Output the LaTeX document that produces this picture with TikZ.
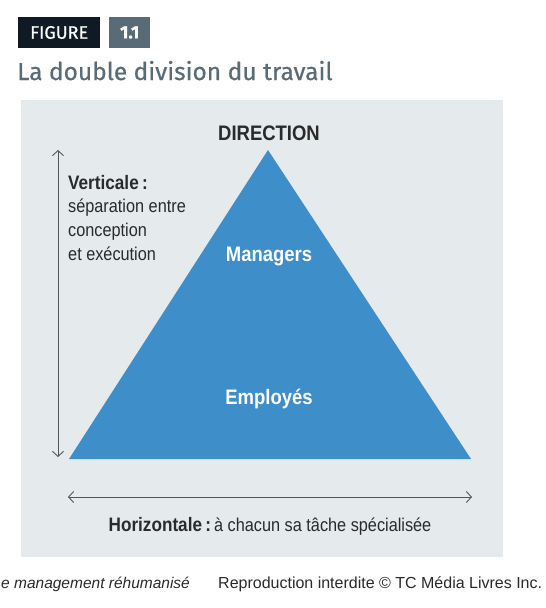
\documentclass[tikz,border=0pt]{standalone}
\usepackage{fontspec}
\setmainfont{Liberation Sans}
\newfontfamily\cond[FakeStretch=0.88]{Liberation Sans}
\newfontfamily\titlefont[FakeBold=0.6]{Fira Sans}
\newfontfamily\tagfont[FakeBold=0.8]{Fira Sans}
\usetikzlibrary{arrows.meta}
\definecolor{panel}{HTML}{E5EAED}
\definecolor{pyr}{HTML}{3D8EC9}
\definecolor{navy}{HTML}{0F1A24}
\definecolor{slate}{HTML}{5A6B78}
\definecolor{txt}{HTML}{2A2A2A}
\definecolor{arr}{HTML}{555555}
\tikzset{
  lbl/.style={inner sep=0pt, anchor=base, text=txt, font=\cond\fontsize{18.5}{22}\selectfont},
  lblw/.style={inner sep=0pt, anchor=base, text=white, font=\cond\bfseries\fontsize{21}{24}\selectfont},
  dblarrow/.style={draw=arr, line width=0.9pt, {Straight Barb[length=5pt,width=11pt]}-{Straight Barb[length=5pt,width=11pt]}},
  tag/.style={inner sep=0pt, minimum height=31pt, text=white, font=\tagfont\fontsize{18}{20}\selectfont, anchor=west}
}
\begin{document}
\begin{tikzpicture}[x=1pt,y=-1pt]
\useasboundingbox (0,0) rectangle (546,608);
\fill[white] (0,0) rectangle (546,608);
% header
\node[tag, fill=navy, minimum width=82pt] (fig) at (18,32.5) {FIGURE};
\node[tag, fill=slate, minimum width=41pt, font=\titlefont\bfseries\fontsize{18}{20}\selectfont] (num) at (109,32.5) {1.1};
\node[inner sep=0pt, anchor=base west, text=slate, font=\titlefont\fontsize{24.5}{28}\selectfont] (title) at (17,80) {La double division du travail};
% panel
\fill[panel] (21,100) rectangle (503,557);
% pyramid
\coordinate (apex) at (268,150);
\coordinate (bl) at (69,459);
\coordinate (br) at (471,459);
\fill[pyr] (apex) -- (bl) -- (br) -- cycle;
\node[lbl, font=\cond\bfseries\fontsize{21}{24}\selectfont] (dir) at (269,140) {DIRECTION};
\node[lblw] (man) at (269,261) {Managers};
\node[lblw] (emp) at (269,404) {Employés};
% vertical arrow
\coordinate (vt) at (58,150);
\coordinate (vb) at (58,457);
\draw[dblarrow] (vt) -- (vb);
\node[lbl, anchor=base west, font=\cond\bfseries\fontsize{19.5}{22}\selectfont] (vert) at (68,189) {Verticale\,:};
\node[lbl, anchor=base west] (v1) at (68,212) {séparation entre};
\node[lbl, anchor=base west] (v2) at (68,236) {conception};
\node[lbl, anchor=base west] (v3) at (68,260) {et exécution};
% horizontal arrow
\coordinate (hl) at (68,497);
\coordinate (hr) at (472,497);
\draw[dblarrow] (hl) -- (hr);
\node[lbl] (hor) at (270,531) {{\bfseries\fontsize{19.5}{22}\selectfont Horizontale\,:}\,à chacun sa tâche spécialisée};
% footer
\node[inner sep=0pt, anchor=base west, text=txt, font=\fontsize{15.5}{18}\selectfont\itshape] (f1) at (1,588) {e management réhumanisé};
\node[inner sep=0pt, anchor=base west, text=txt, font=\fontsize{16}{18}\selectfont] (f2) at (218,588) {Reproduction interdite © TC Média Livres Inc.};
\end{tikzpicture}
\end{document}
